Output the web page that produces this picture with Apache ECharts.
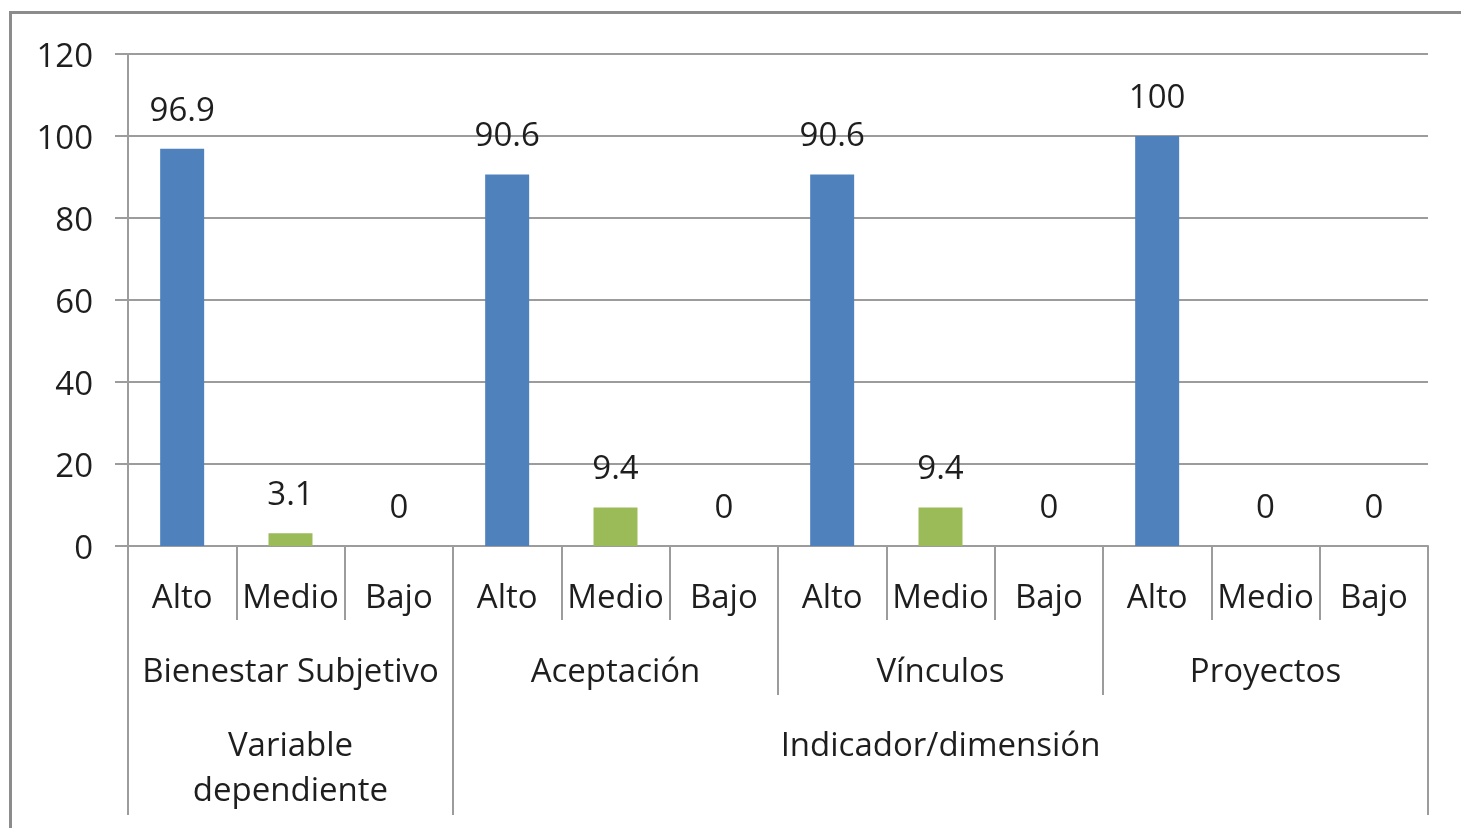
<!DOCTYPE html>
<html>
<head>
<meta charset="utf-8">
<script src="https://cdn.jsdelivr.net/npm/echarts@6/dist/echarts.min.js"></script>
<style>
  html, body { margin: 0; padding: 0; background: #fff; }
  #chart { position: absolute; left: 0; top: 0; width: 1461px; height: 828px; }
  #frame { position: absolute; left: 9px; top: 11px; width: 2000px; height: 2000px;
           border-left: 3px solid #8c8c8c; border-top: 3px solid #8c8c8c; pointer-events: none; }
</style>
</head>
<body>
<div id="chart"></div>
<div id="frame"></div>
<script>
// ---- data ----
const groups = ['Bienestar Subjetivo', 'Aceptación', 'Vínculos', 'Proyectos'];
const levels = ['Alto', 'Medio', 'Bajo'];
const topGroups = ['Variable\ndependiente', 'Indicador/dimensión'];
const topGroupSpans = [1, 3];           // number of groups each top label covers
const values = [96.9, 3.1, 0, 90.6, 9.4, 0, 90.6, 9.4, 0, 100, 0, 0];
const yMin = 0, yMax = 120, yStep = 20;

// ---- derived ----
const categories = [];
groups.forEach(g => levels.forEach(l => categories.push(l)));
const n = categories.length;
const topLabels = new Array(n).fill('');
const topBoundaries = [];
let start = 0;
topGroups.forEach((t, i) => {
  const s = start * levels.length;
  const len = topGroupSpans[i] * levels.length;
  topLabels[s + Math.floor((len - 1) / 2)] = t;
  topBoundaries.push(s);
  start += topGroupSpans[i];
});

const FONT = '"Open Sans"';
const FS = 33;
const TXT = '#1e1e1e';
const LINE = '#9c9c9c';
const LW = 2;
const levelColors = { Alto: '#4F81BD', Medio: '#9BBB59', Bajo: '#C0504D' };

const chart = echarts.init(document.getElementById('chart'), null, { renderer: 'canvas' });
chart.setOption({
  animation: false,
  grid: { left: 128, right: 33, top: 54, bottom: 282, containLabel: false },
  xAxis: [
    {
      type: 'category', position: 'bottom', data: categories,
      axisLine: { show: true, lineStyle: { color: LINE, width: LW } },
      axisTick: { show: true, interval: 0, length: 74, lineStyle: { color: LINE, width: LW } },
      axisLabel: { interval: 0, margin: 36, fontFamily: FONT, fontSize: FS, color: TXT }
    },
    {
      type: 'category', position: 'bottom', data: groups,
      axisLine: { show: false },
      axisTick: { show: true, interval: 0, length: 149, lineStyle: { color: LINE, width: LW } },
      axisLabel: { interval: 0, margin: 110, fontFamily: FONT, fontSize: FS, color: TXT }
    },
    {
      type: 'category', position: 'bottom', data: topLabels,
      axisLine: { show: false },
      axisTick: { show: true, interval: (i) => topBoundaries.indexOf(i) >= 0, length: 269, lineStyle: { color: LINE, width: LW } },
      axisLabel: { interval: 0, margin: 178, fontFamily: FONT, fontSize: FS, lineHeight: 45, color: TXT }
    }
  ],
  yAxis: {
    type: 'value', min: yMin, max: yMax, interval: yStep,
    axisLine: { show: true, lineStyle: { color: LINE, width: LW } },
    axisTick: { show: true, length: 13, lineStyle: { color: LINE, width: LW } },
    splitLine: { show: true, lineStyle: { color: LINE, width: LW } },
    axisLabel: {
      margin: 35, formatter: '{v|{value}}',
      rich: { v: { padding: [8, 0, 0, 0], fontFamily: FONT, fontSize: FS, color: TXT } }
    }
  },
  series: [{
    type: 'bar', xAxisIndex: 0, data: values, barWidth: '40.6%',
    itemStyle: { color: (p) => levelColors[categories[p.dataIndex]] },
    label: { show: true, position: 'top', distance: 21, fontFamily: FONT, fontSize: FS, color: TXT }
  }]
});
</script>
</body>
</html>
